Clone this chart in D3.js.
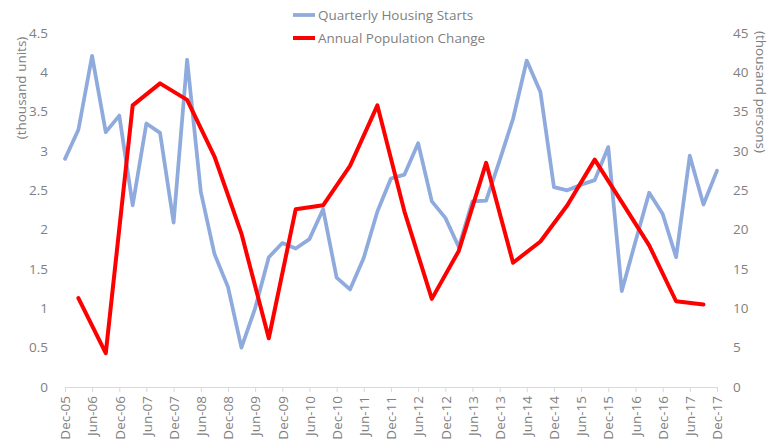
<!DOCTYPE html>
<html>
<head>
<meta charset="utf-8">
<script src="https://cdn.jsdelivr.net/npm/d3@7"></script>
<style>
  body { margin: 0; background: #fff; }
  svg text { font-family: "Open Sans", "Liberation Sans", sans-serif; fill: #7f7f7f; }
</style>
</head>
<body>
<div id="chart"></div>
<script>
// quarterly housing starts (thousand units), Dec-05 .. Dec-17
const housingStarts = [
  2.90, 3.27, 4.21, 3.24, 3.45, 2.31, 3.35, 3.23, 2.09, 4.16, 2.48, 1.69, 1.27, 0.50,
  1.00, 1.65, 1.83, 1.76, 1.88, 2.26, 1.39, 1.24, 1.64, 2.23, 2.65, 2.70, 3.10, 2.36,
  2.15, 1.78, 2.36, 2.37, 2.88, 3.41, 4.15, 3.75, 2.54, 2.50, 2.57, 2.63, 3.05, 1.22,
  1.85, 2.47, 2.20, 1.65, 2.94, 2.32, 2.75
]
// annual population change (thousand persons), Mar-06 .. Sep-17, every 6 months
const popChange = [
  11.3, 4.3, 35.8, 38.6, 36.5, 29.3, 19.5, 6.2, 22.6, 23.1, 28.1, 35.8,
  22.3, 11.2, 17.3, 28.5, 15.8, 18.5, 23.1, 28.9, 23.5, 18.0, 10.9, 10.5
]
const leftTicks = [0, 0.5, 1, 1.5, 2, 2.5, 3, 3.5, 4, 4.5]
const rightTicks = [0, 5, 10, 15, 20, 25, 30, 35, 40, 45]
const seriesNames = ['Quarterly Housing Starts', 'Annual Population Change']
const seriesColors = ['#8faadc', '#ff0000']

const width = 772
const height = 444
const margin = { top: 33, right: 55, bottom: 57, left: 65 }

const startDate = new Date(2005, 11, 1)
const endDate = new Date(2017, 11, 1)
const quarterDates = housingStarts.map((d, i) => d3.timeMonth.offset(startDate, i * 3))
const popDates = popChange.map((d, i) => d3.timeMonth.offset(startDate, 3 + i * 6))

const x = d3.scaleTime()
  .domain([startDate, endDate])
  .range([margin.left, width - margin.right])
const yLeft = d3.scaleLinear()
  .domain([0, 4.5])
  .range([height - margin.bottom, margin.top])
const yRight = d3.scaleLinear()
  .domain([0, 45])
  .range([height - margin.bottom, margin.top])

const svg = d3.select('#chart')
  .append('svg')
  .attr('width', width)
  .attr('height', height)

// x axis, a tick every 6 months (Dec / Jun)
const xTicks = d3.range(25).map(i => d3.timeMonth.offset(startDate, i * 6))
const xAxis = svg.append('g')
  .attr('transform', `translate(0,${height - margin.bottom})`)
  .call(d3.axisBottom(x)
    .tickValues(xTicks)
    .tickFormat(d3.timeFormat('%b-%y'))
    .tickSizeInner(5)
    .tickSizeOuter(0))
xAxis.select('.domain').attr('stroke', '#d9d9d9')
xAxis.selectAll('.tick line').attr('stroke', '#d9d9d9')
xAxis.selectAll('.tick text')
  .attr('transform', 'rotate(-90)')
  .attr('text-anchor', 'end')
  .attr('x', -9)
  .attr('y', 0)
  .attr('dy', '0.35em')
  .style('font-size', '13.5px')
  .style('fill', '#7f7f7f')

// left axis
const leftAxis = svg.append('g')
  .attr('transform', `translate(${margin.left},0)`)
  .call(d3.axisLeft(yLeft).tickValues(leftTicks).tickFormat(d3.format('~g')).tickSize(0).tickPadding(17))
leftAxis.select('.domain').remove()
leftAxis.selectAll('text').style('font-size', '13.5px').style('fill', '#7f7f7f')

// right axis
const rightAxis = svg.append('g')
  .attr('transform', `translate(${width - margin.right},0)`)
  .call(d3.axisRight(yRight).tickValues(rightTicks).tickSize(0).tickPadding(16))
rightAxis.select('.domain').remove()
rightAxis.selectAll('text').style('font-size', '13.5px').style('fill', '#7f7f7f')

// axis titles
svg.append('text')
  .attr('transform', 'translate(26,88) rotate(-90)')
  .attr('text-anchor', 'middle')
  .style('font-size', '13.5px')
  .text('(thousand units)')
svg.append('text')
  .attr('transform', 'translate(756,92) rotate(90)')
  .attr('text-anchor', 'middle')
  .style('font-size', '13.5px')
  .text('(thousand persons)')

// lines
const blueLine = d3.line()
  .x((d, i) => x(quarterDates[i]))
  .y(d => yLeft(d))
const redLine = d3.line()
  .x((d, i) => x(popDates[i]))
  .y(d => yRight(d))

svg.append('path')
  .datum(housingStarts)
  .attr('fill', 'none')
  .attr('stroke', seriesColors[0])
  .attr('stroke-width', 3.75)
  .attr('stroke-linejoin', 'round')
  .attr('stroke-linecap', 'round')
  .attr('d', blueLine)

svg.append('path')
  .datum(popChange)
  .attr('fill', 'none')
  .attr('stroke', seriesColors[1])
  .attr('stroke-width', 4)
  .attr('stroke-linejoin', 'round')
  .attr('stroke-linecap', 'round')
  .attr('d', redLine)

// legend
const legendItems = svg.append('g')
  .selectAll('g')
  .data(seriesNames)
  .enter()
  .append('g')
  .attr('transform', (d, i) => `translate(293,${15 + i * 23})`)
legendItems.append('line')
  .attr('x1', 0)
  .attr('x2', 22)
  .attr('stroke', (d, i) => seriesColors[i])
  .attr('stroke-width', (d, i) => i ? 4 : 3.75)
legendItems.append('text')
  .attr('x', 25)
  .attr('dy', '0.35em')
  .style('font-size', '13.5px')
  .text(d => d)
</script>
</body>
</html>
